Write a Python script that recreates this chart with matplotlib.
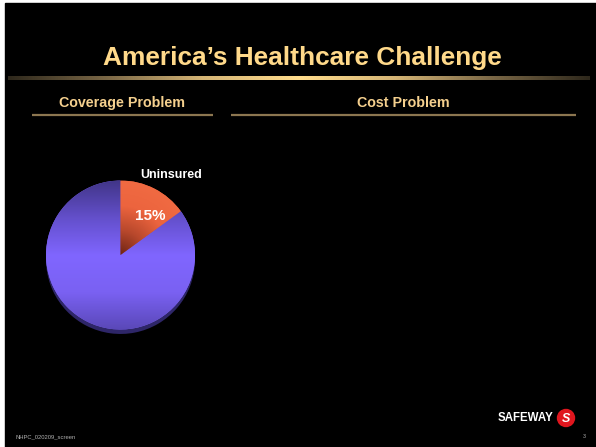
"""
Slide 3: America's Healthcare Challenge - coverage pie on a black slide.
"""
from __future__ import annotations

import matplotlib

matplotlib.use("Agg")
import matplotlib.pyplot as plt
import numpy as np
from matplotlib.colors import LinearSegmentedColormap
from matplotlib.patches import Circle, Rectangle

W, H = 596, 447

TITLE = "America\u2019s Healthcare Challenge"
SECTIONS = ["Coverage Problem", "Cost Problem"]
PIE_LABELS = ["Uninsured", "Insured"]
PIE_VALUES = [15, 85]
PIE_TEXT = ["15%", ""]
FOOTER = "NHPC_020209_screen"
PAGE = "3"

GOLD = "#FFD98A"
SUB_GOLD = "#F5D08E"
RULE = "#8C7650"
FONT = ["Liberation Sans", "DejaVu Sans"]


def add_base(fig):
    ax = fig.add_axes([0, 0, 1, 1])
    ax.set_xlim(0, W)
    ax.set_ylim(H, 0)
    ax.axis("off")
    ax.add_patch(Rectangle((5, 3), W - 5, H - 3, color="black", zorder=0))
    return ax


def draw_header(ax):
    ax.text(302, 58, TITLE, ha="center", va="center", color=GOLD,
            fontsize=18.9, fontweight="bold", family=FONT)
    # gold rule that fades out at both ends
    cmap = LinearSegmentedColormap.from_list(
        "rule", ["#2e281c", "#7a6746", "#d4b475", "#ffdc8c", "#d4b475", "#7a6746", "#2e281c"])
    grad = np.linspace(0, 1, 256).reshape(1, -1)
    ax.imshow(grad, cmap=cmap, aspect="auto", extent=[8, 590, 80, 76], zorder=2)
    ax.set_xlim(0, W)
    ax.set_ylim(H, 0)

    centers = [122, 403]
    spans = [(32, 213), (231, 576)]
    for label, cx, (x0, x1) in zip(SECTIONS, centers, spans):
        ax.text(cx, 103, label, ha="center", va="center", color=SUB_GOLD,
                fontsize=10.3, fontweight="bold", family=FONT)
        ax.plot([x0, x1], [114.5, 114.5], color=RULE, lw=1.6, solid_capstyle="butt")


def draw_pie(fig):
    cx, cy, r = 120.5, 255.0, 74.5
    lim = 1.1
    size = r * lim  # half width in px
    pax = fig.add_axes([(cx - size) / W, (H - cy - size) / H, 2 * size / W, 2 * size / H])
    pax.axis("off")

    # depth: darker copy shifted down
    pax.pie(PIE_VALUES, startangle=90, counterclock=False, center=(0, -0.06),
            colors=["#5a2416", "#2e2668"], wedgeprops=dict(linewidth=0))
    wedges, _ = pax.pie(PIE_VALUES, startangle=90, counterclock=False,
                        colors=["#e4603c", "#7f64f4"], wedgeprops=dict(linewidth=0))

    # purple: vertical shading, dark at top, bright through the middle
    yy = np.linspace(1, -1, 200).reshape(-1, 1) * np.ones((1, 2))
    purple = LinearSegmentedColormap.from_list(
        "pu", ["#42368a", "#6450cc", "#8066ff", "#7a61f2", "#5a48b8"])
    im = pax.imshow((1 - yy) / 2, cmap=purple, extent=[-1, 1, -1, 1], zorder=3)
    im.set_clip_path(wedges[1])

    # red: dark near the centre, orange at the outer edge
    gx, gy = np.meshgrid(np.linspace(-1, 1, 200), np.linspace(1, -1, 200))
    red = LinearSegmentedColormap.from_list("rd", ["#6e2414", "#b8482c", "#ec643e", "#f06a42"])
    im2 = pax.imshow(np.clip(np.hypot(gx, gy), 0, 1), cmap=red, extent=[-1, 1, -1, 1], zorder=3)
    im2.set_clip_path(wedges[0])

    pax.set_xlim(-lim, lim)
    pax.set_ylim(-lim, lim)

    pax.text(0.40, 0.52, PIE_TEXT[0], ha="center", va="center", color="white",
             fontsize=11, fontweight="bold", family=FONT, zorder=5)
    pax.text(0.68, 1.08, PIE_LABELS[0], ha="center", va="center", color="white",
             fontsize=9, fontweight="bold", family=FONT, zorder=5)


def draw_footer(ax):
    ax.text(16, 437, FOOTER, ha="left", va="center", color="#b0b0b0", fontsize=4.2, family=FONT)
    ax.text(584, 436, PAGE, ha="center", va="center", color="#b0b0b0", fontsize=3.8, family=FONT)
    ax.text(526, 418, "SAFEWAY", ha="center", va="center", color="white", fontsize=8.3,
            fontweight="bold", family=FONT)
    ax.add_patch(Circle((566, 418), 8.5, color="#e0161e", zorder=3))
    ax.text(566, 418.5, "S", ha="center", va="center", color="white", fontsize=9,
            fontweight="bold", fontstyle="italic", family=FONT, zorder=4)


def main() -> None:
    fig = plt.figure(figsize=(W / 100, H / 100), dpi=100, facecolor="white")
    ax = add_base(fig)
    draw_header(ax)
    draw_footer(ax)
    draw_pie(fig)
    fig.savefig("out.png", dpi=100, facecolor="white")
    plt.close(fig)


if __name__ == "__main__":
    main()
